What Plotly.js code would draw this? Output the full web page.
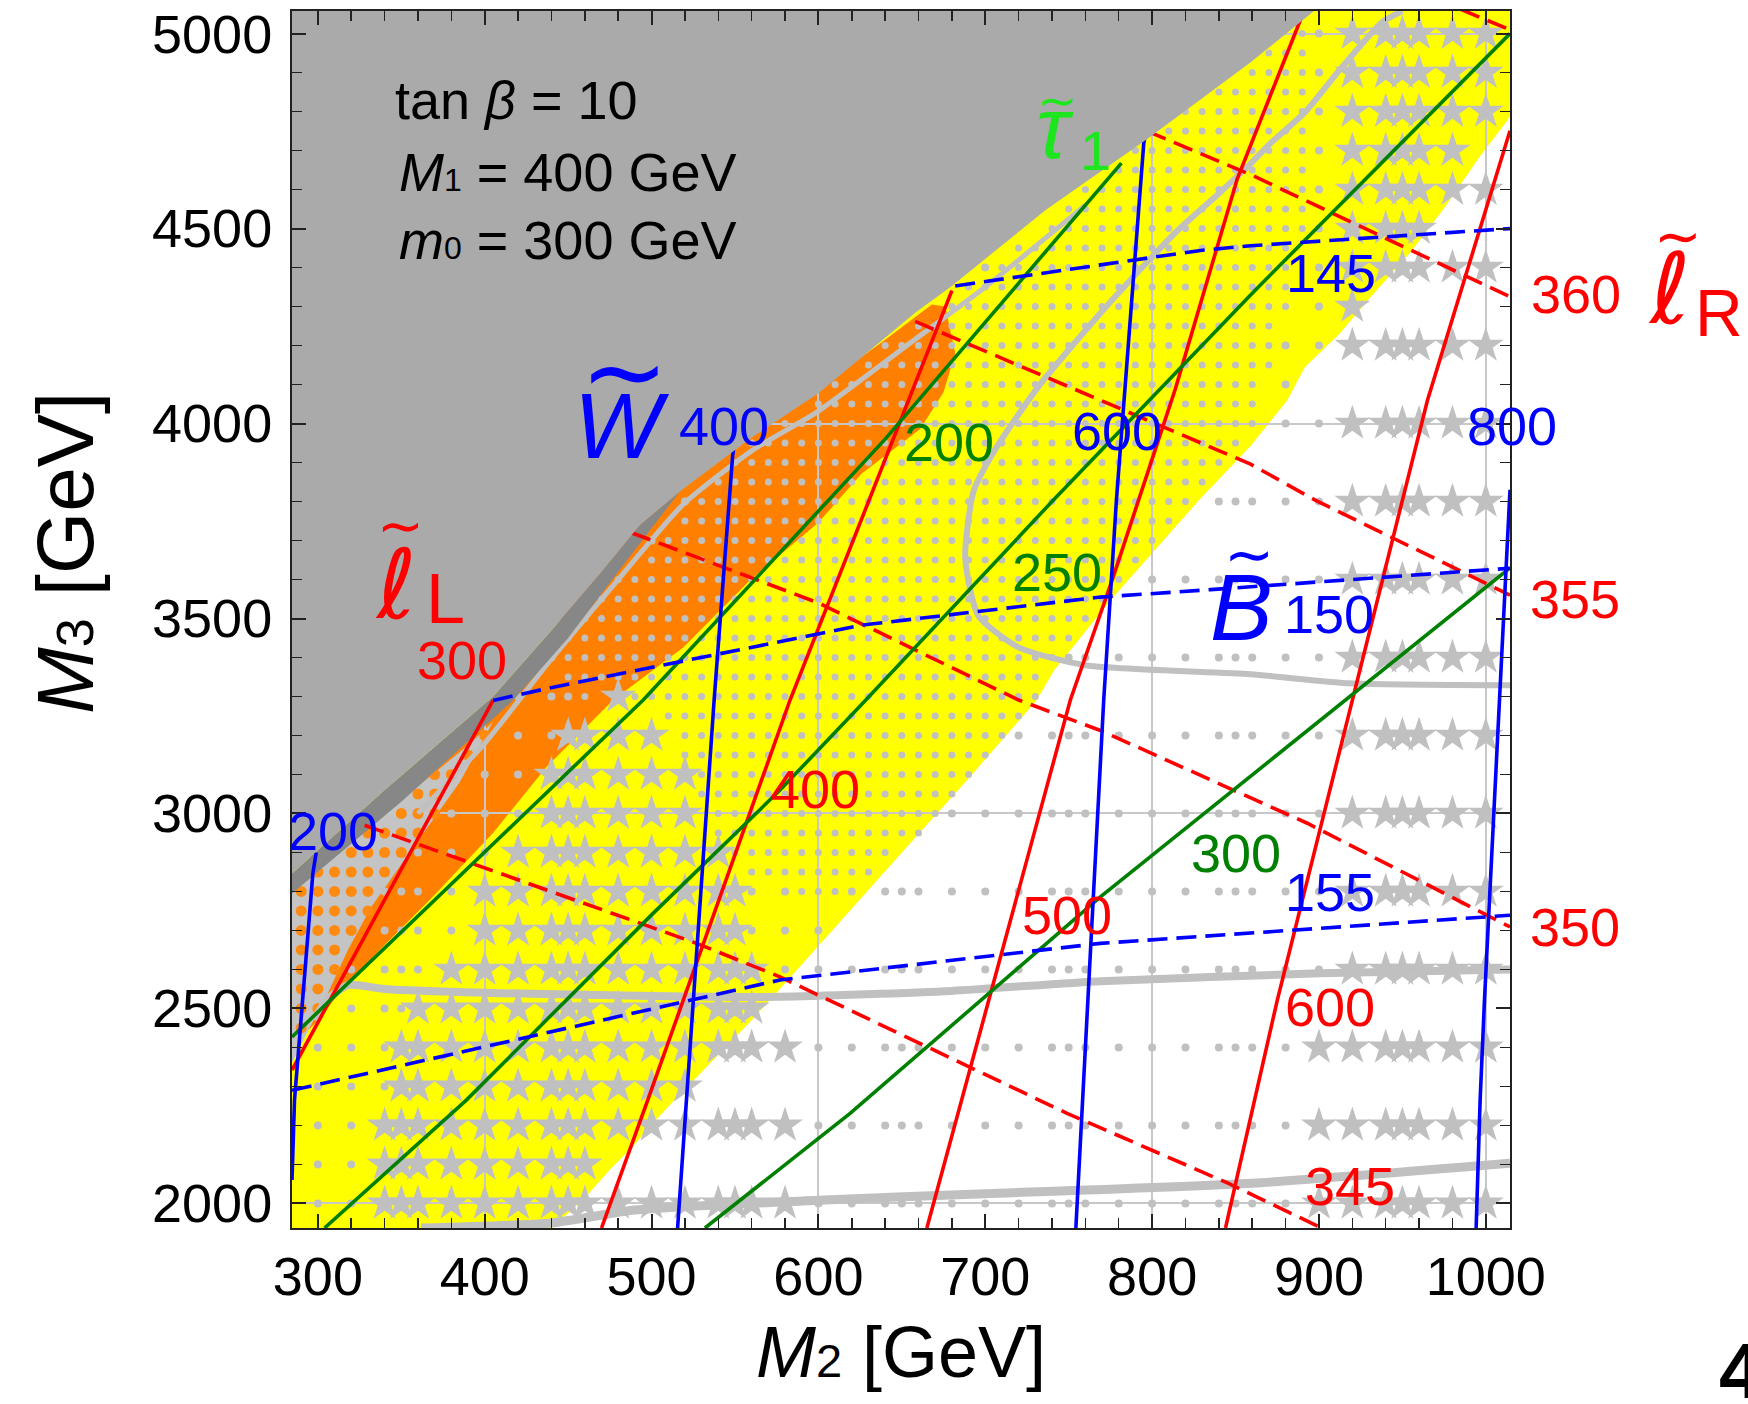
<!DOCTYPE html>
<html><head><meta charset="utf-8">
<script src="https://cdn.plot.ly/plotly-3.0.1.min.js"></script>
<style>html,body{margin:0;padding:0;background:#fff}</style>
</head><body>
<div id="chart" style="width:1748px;height:1404px"></div>
<script>
// ---------------- DATA (all in GeV) ----------------
const xRange = [284.5, 1014.5];
const yRange = [1937, 5058];

// scan grid of the parameter points
const scanM2 = [300,320,340,350,360,380,400,420,440,450,460,480,500,520,540,550,560,580,600,620,640,650,660,680,700,720,740,750,760,780,800,820,840,850,860,880,900,920,940,950,960,980,1000];
const scanM2Fine = [290,300,310,320,330,340,350,360,370,380,390,400,410,420,430,440,450,460,470,480,490,500,510,520,530,540,550,560,570,580,590,600,610,620,630,640,650,660,670,680,690,700,710,720,730,740,750,760,770,780,790,800,810,820,830,840,850,860,870,880,890];
const scanM3 = [2000,2050,2100,2150,2200,2250,2300,2350,2400,2450,2500,2550,2600,2650,2700,2750,2800,2850,2900,2950,3000,3050,3100,3150,3200,3250,3300,3350,3400,3450,3500,3550,3600,3650,3700,3750,3800,3850,3900,3950,4000,4050,4100,4150,4200,4250,4300,4350,4400,4450,4500,4550,4600,4650,4700,4750,4800,4850,4900,4950,5000,5050];

// regions
const exclM2 = [280, 280, 340, 405, 440, 470, 493, 517, 560, 600, 658, 680, 736, 797.5, 858.7, 897, 920];
const exclM3 = [5100, 2829, 3060, 3300, 3470, 3620, 3740, 3826, 3964, 4078, 4284, 4353, 4547, 4731, 4925, 5058, 5100];
const darkM2 = [280, 340, 405, 440, 470, 493, 517, 505, 480, 450, 417, 350, 280];
const darkM3 = [2829, 3060, 3300, 3470, 3620, 3740, 3826, 3760, 3620, 3450, 3290, 3030, 2779];
const yellowM2 = [284.5, 440, 458.7, 474.7, 488.5, 502.3, 513.8, 560, 600, 650, 690, 730.7, 741.4, 768.7, 778.6, 828, 858.7, 880.9, 891.6, 912.5, 929.3, 954.4, 975.4, 996.3, 1013, 1014.5, 1014.5, 284.5];
const yellowM3 = [1937, 1937, 2008, 2085, 2145, 2213, 2265, 2470, 2660, 2900, 3090, 3290, 3368, 3513, 3564, 3803, 3941, 4059, 4145, 4231, 4316, 4437, 4555, 4684, 4778, 4790, 5058, 5058];
const orangeM2 = [284.5, 284.5, 350, 417, 460, 492, 517, 560, 600, 640, 668, 676, 682, 675, 661, 626, 600, 559, 519, 477, 437, 405, 367, 337, 315, 300];
const orangeM3 = [2400, 2800, 3040, 3300, 3600, 3740, 3830, 3975, 4090, 4215, 4305, 4300, 4180, 4080, 3986, 3872, 3746, 3598, 3426, 3291, 3119, 2950, 2778, 2650, 2550, 2470];
const lgrayM2 = [284.5, 284.5, 350, 390, 405, 385, 355, 332, 318, 305, 295];
const lgrayM3 = [2360, 2800, 3035, 3175, 3235, 3080, 2900, 2760, 2650, 2530, 2450];
const fineM2 = [440, 560, 684, 800, 880, 900, 905, 860, 780, 700, 600, 520, 470];
const fineM3 = [3420, 3960, 4340, 4740, 4990, 5058, 4700, 3950, 3380, 2950, 2780, 2900, 3150];
const starAM2 = [325, 330, 345, 370, 400, 430, 450, 465, 495, 520, 545, 560, 585, 600, 590, 600];
const starAM3 = [1937, 2150, 2350, 2600, 2850, 3050, 3200, 3330, 3280, 3150, 2900, 2700, 2500, 2400, 2150, 1937];

// selectron-L contours (red solid)
const slepL300M2 = [284.5, 405], slepL300M3 = [2342, 3290];
const slepL400M2 = [470, 497.7, 583, 680], slepL400M3 = [1937, 2265, 3291, 4341];
const slepL500M2 = [665, 700, 751, 776, 814, 851, 891], slepL500M3 = [1937, 2487, 3291, 3598, 4090, 4627, 5058];
const slepL600M2 = [844, 875, 950, 965, 1014.5], slepL600M3 = [1937, 2521, 3803, 4059, 4751];
// selectron-R contours (red dashed)
const slepR345M2 = [328, 527, 577, 749, 845.5, 905], slepR345M3 = [2970, 2667, 2581, 2231, 2052, 1930];
const slepR350M2 = [488, 600, 720, 769, 893, 1014.5], slepR350M3 = [3720, 3540, 3291, 3213, 2975, 2709];
const slepR355M2 = [658, 747, 859, 898, 1014.5], slepR355M3 = [4262, 4101, 3896, 3803, 3560];
const slepR360M2 = [797, 858.7, 1014.5], slepR360M3 = [4750, 4639, 4325];
const slepR365M2 = [985, 1014.5], slepR365M3 = [5062, 5010];
// stau1 contours (green)
const stau200M2 = [284.5, 400, 495, 640, 781.6], stau200M3 = [2427, 2900, 3291, 3960, 4668];
const stau250M2 = [304, 389, 500, 577, 626, 740, 859, 917, 1014.5], stau250M3 = [1937, 2265, 2740, 3060, 3280, 3800, 4330, 4580, 5000];
const stau300M2 = [532, 619, 769, 918, 1014.5], stau300M3 = [1937, 2231, 2786, 3299, 3630];
// wino contours (blue solid)
const wino200M2 = [284.5, 286, 297, 299], wino200M3 = [2060, 2265, 2846, 2900];
const wino400M2 = [515.6, 521, 537.5, 548.6, 550], wino400M3 = [1937, 2265, 3291, 3918, 3960];
const wino600M2 = [754.3, 771, 778.6, 795, 797], wino600M3 = [1937, 3291, 3803, 4719, 4760];
const wino800M2 = [994.2, 996.6, 999.2, 1014.5], wino800M3 = [1937, 2265, 2521, 3830];
// bino contours (blue dashed)
const bino145M2 = [682, 829, 859, 1014.5], bino145M3 = [4353, 4444, 4456, 4500];
const bino150M2 = [405, 439, 626, 769, 835, 1014.5], bino150M3 = [3290, 3322, 3483, 3555, 3574, 3629];
const bino155M2 = [284.5, 577, 769, 1014.5], bino155M3 = [2290, 2573, 2667, 2739];
// thick gray contours
const grayLowM2 = [362, 440, 490, 600, 700, 860, 1014.5], grayLowM3 = [1937, 1950, 1983, 2008, 2025, 2052, 2103];
const grayMidM2 = [298, 305, 318, 340, 400, 500, 577, 680, 769, 900, 1014.5], grayMidM3 = [2470, 2520, 2560, 2550, 2540, 2532, 2530, 2545, 2570, 2590, 2600];
const grayUM2 = [950, 938, 922, 912, 892, 870, 858, 840, 814, 774, 733, 707, 693, 688, 696, 720, 760, 859, 918, 1014.5];
const grayUM3 = [5058, 5030, 4955, 4905, 4800, 4715, 4662, 4590, 4490, 4307, 4101, 3941, 3826, 3655, 3506, 3426, 3380, 3357, 3334, 3329];
const grayEdgeM2 = [360, 400, 439, 480, 519, 560, 600, 658, 700, 760], grayEdgeM3 = [3000, 3180, 3391, 3600, 3793, 3930, 4032, 4216, 4350, 4560];

// ---------------- helpers ----------------
function inPoly(x, y, xs, ys) {
  let inside = false;
  for (let i = 0, j = xs.length - 1; i < xs.length; j = i++) {
    if (((ys[i] > y) !== (ys[j] > y)) && (x < (xs[j] - xs[i]) * (y - ys[i]) / (ys[j] - ys[i]) + xs[i])) inside = !inside;
  }
  return inside;
}
function pathOf(xs, ys) { return 'M' + xs.map((x, i) => x + ',' + ys[i]).join('L') + 'Z'; }

// classify scan points
const dotX = [], dotY = [], fineX = [], fineY = [], starX = [], starY = [], orX = [], orY = [];
function hidden(m2, m3) { return inPoly(m2, m3, exclM2, exclM3) || inPoly(m2, m3, darkM2, darkM3) || inPoly(m2, m3, lgrayM2, lgrayM3); }
function isStar(m2, m3) { return m2 >= 915 || (m2 >= 890 && m3 < 2600); }
for (const m3 of scanM3) {
  for (const m2 of scanM2Fine) {
    if (m2 >= 440 && inPoly(m2, m3, fineM2, fineM3) && inPoly(m2, m3, yellowM2, yellowM3) &&
        !inPoly(m2, m3, starAM2, starAM3) && !hidden(m2, m3)) { fineX.push(m2); fineY.push(m3); }
    if (m2 <= 400 && inPoly(m2, m3, lgrayM2, lgrayM3) && !inPoly(m2, m3, darkM2, darkM3)) { orX.push(m2); orY.push(m3); }
  }
  for (const m2 of scanM2) {
    if (hidden(m2, m3)) continue;
    const inYellow = inPoly(m2, m3, yellowM2, yellowM3);
    if (inYellow && m2 < 900 && inPoly(m2, m3, fineM2, fineM3) && !inPoly(m2, m3, starAM2, starAM3)) continue;
    if (inYellow ? (m3 % 100 !== 0) : (m3 % 200 !== 0)) continue;
    if (inPoly(m2, m3, starAM2, starAM3) || isStar(m2, m3)) { starX.push(m2); starY.push(m3); } else { dotX.push(m2); dotY.push(m3); }
  }
}

const GRAY = '#c0c0c0', RED = '#ff0000', BLUE = '#0000ff', GREEN = '#008000';
function line(xs, ys, color, dash, width, shape) {
  return {type: 'scatter', mode: 'lines', x: xs, y: ys, hoverinfo: 'skip',
    line: {color: color, width: width || 3.6, dash: dash || 'solid', shape: shape || 'linear', smoothing: 0.6}};
}
function fillTrace(xs, ys, color) {
  return {type: 'scatter', mode: 'lines', x: xs, y: ys, fill: 'toself', fillcolor: color, line: {width: 0, color: color}, hoverinfo: 'skip'};
}
const DASH = '20px,9px';
const traces = [
  {type: 'scatter', mode: 'markers', x: dotX, y: dotY, marker: {symbol: 'circle', size: 8, color: GRAY}, hoverinfo: 'skip'},
  {type: 'scatter', mode: 'markers', x: fineX, y: fineY, marker: {symbol: 'circle', size: 7, color: GRAY}, hoverinfo: 'skip'},
  {type: 'scatter', mode: 'markers', x: starX, y: starY, marker: {symbol: 'star', size: 27, color: GRAY}, hoverinfo: 'skip'},
  {type: 'scatter', mode: 'markers', x: orX, y: orY, marker: {symbol: 'circle', size: 11, color: '#ff8a10'}, hoverinfo: 'skip'},
  line(grayLowM2, grayLowM3, GRAY, 'solid', 9, 'spline'),
  line(grayMidM2, grayMidM3, GRAY, 'solid', 8, 'spline'),
  line(grayUM2, grayUM3, GRAY, 'solid', 6, 'spline'),
  line(grayEdgeM2, grayEdgeM3, GRAY, 'solid', 5, 'spline'),
  fillTrace(darkM2, darkM3, '#878787'),
  line(slepL300M2, slepL300M3, RED), line(slepL400M2, slepL400M3, RED),
  line(slepL500M2, slepL500M3, RED), line(slepL600M2, slepL600M3, RED),
  line(slepR345M2, slepR345M3, RED, DASH), line(slepR350M2, slepR350M3, RED, DASH),
  line(slepR355M2, slepR355M3, RED, DASH), line(slepR360M2, slepR360M3, RED, DASH),
  line(slepR365M2, slepR365M3, RED, DASH),
  line(stau200M2, stau200M3, GREEN), line(stau250M2, stau250M3, GREEN), line(stau300M2, stau300M3, GREEN),
  line(wino200M2, wino200M3, BLUE), line(wino400M2, wino400M3, BLUE),
  line(wino600M2, wino600M3, BLUE), line(wino800M2, wino800M3, BLUE),
  line(bino145M2, bino145M3, BLUE, DASH), line(bino150M2, bino150M3, BLUE, DASH), line(bino155M2, bino155M3, BLUE, DASH),
  fillTrace(exclM2, exclM3, '#aaaaaa'),
  {type: 'scatter', mode: 'markers', x: [null], y: [null], xaxis: 'x2', yaxis: 'y2', hoverinfo: 'skip'}
];

// ---------------- layout ----------------
const L0 = 292, R0 = 1510, T0 = 11, B0 = 1228;
const FONT = 'Liberation Sans, Arial, Helvetica, sans-serif';
function A(text, X, Y, size, color, extra) {
  return Object.assign({xref: 'paper', yref: 'paper', x: (X - L0) / (R0 - L0), y: (B0 - Y) / (B0 - T0),
    text: text, showarrow: false, xanchor: 'center', yanchor: 'middle',
    font: {size: size, color: color, family: FONT}}, extra || {});
}
function tilde(X, Y, size, color) { return A('∼', X, Y, size, color, {font: {size: size, color: color, family: 'DejaVu Sans'}}); }
const NUM = 54;
const annotations = [
  A('tan <i>β</i> = 10', 393, 100, 54, '#000', {xanchor: 'left'}),
  A('<i>M</i><span style="font-size:32px">1</span> = 400 GeV', 397, 172, 54, '#000', {xanchor: 'left'}),
  A('<i>m</i><span style="font-size:32px">0</span> = 300 GeV', 397, 240, 54, '#000', {xanchor: 'left'}),
  // stau label
  A('<i>τ</i>', 1055, 127, 88, '#1ee61e'), A('1', 1095, 150, 56, '#1ee61e'), tilde(1057, 100, 48, '#1ee61e'),
  // wino label
  A('<i>W</i>', 622, 426, 93, BLUE), tilde(624, 372, 106, BLUE), A('400', 724, 426, NUM, BLUE),
  // selectron L
  A('<i>ℓ</i>', 396, 585, 96, RED, {font: {size: 96, color: RED, family: 'DejaVu Sans'}}),
  A('L', 445, 599, 70, RED), tilde(400, 525, 56, RED), A('300', 462, 660, NUM, RED),
  // bino
  A('<i>B</i>', 1241, 607, 94, BLUE), tilde(1249, 554, 60, BLUE), A('150', 1329, 614, NUM, BLUE),
  // selectron R
  A('360', 1576, 294, NUM, RED),
  A('<i>ℓ</i>', 1669, 289, 98, RED, {font: {size: 98, color: RED, family: 'DejaVu Sans'}}),
  tilde(1678, 236, 57, RED), A('R', 1719, 313, 66, RED),
  A('355', 1575, 599, NUM, RED), A('350', 1575, 927, NUM, RED), A('345', 1350, 1186, NUM, RED),
  A('600', 1330, 1007, NUM, RED), A('500', 1067, 915, NUM, RED), A('400', 815, 789, NUM, RED),
  // other numbers
  A('200', 333, 831, NUM, BLUE), A('600', 1117, 431, NUM, BLUE), A('800', 1512, 426, NUM, BLUE),
  A('145', 1331, 273, NUM, BLUE), A('155', 1330, 892, NUM, BLUE),
  A('200', 949, 442, NUM, GREEN), A('250', 1057, 572, NUM, GREEN), A('300', 1236, 853, NUM, GREEN),
  A('<b>4</b>', 1717, 1371, 78, '#000', {xanchor: 'left'})
];

const shapes = [
  {type: 'path', xref: 'x', yref: 'y', layer: 'below', path: pathOf(yellowM2, yellowM3), fillcolor: '#ffff00', line: {width: 0}},
  {type: 'path', xref: 'x', yref: 'y', layer: 'below', path: pathOf(orangeM2, orangeM3), fillcolor: '#ff8000', line: {width: 0}},
  {type: 'path', xref: 'x', yref: 'y', layer: 'below', path: pathOf(lgrayM2, lgrayM3), fillcolor: '#c4c4c4', line: {width: 0}}
];

const axCommon = {ticks: 'inside', ticklen: 14, tickwidth: 2, tickcolor: '#222', showline: true, linecolor: '#222', linewidth: 2,
  mirror: 'allticks', showgrid: false, zeroline: false, automargin: false, tickfont: {size: 54, family: FONT, color: '#000'}};
const yShift = '\u200b' + '\u00a0'.repeat(6);
const layout = {
  width: 1748, height: 1404, margin: {l: L0, r: 1748 - R0, t: T0, b: 1404 - B0, pad: 0},
  paper_bgcolor: '#ffffff', plot_bgcolor: '#ffffff', showlegend: false,
  font: {family: FONT, color: '#000'},
  xaxis: Object.assign({}, axCommon, {range: xRange, tickmode: 'linear', tick0: 300, dtick: 100, ticklabelstandoff: 0,
    minor: {tick0: 300, dtick: 20, ticks: 'inside', ticklen: 10, tickwidth: 1.5, tickcolor: '#222', showgrid: false},
    title: {text: '<i>M</i><span style="font-size:47px">2</span> [GeV]', font: {size: 72, family: FONT, color: '#000'}, standoff: 22}}),
  yaxis: Object.assign({}, axCommon, {range: yRange, tickmode: 'linear', tick0: 2000, dtick: 500, ticklabelstandoff: 7,
    minor: {tick0: 2000, dtick: 100, ticks: 'inside', ticklen: 10, tickwidth: 1.5, tickcolor: '#222', showgrid: false},
    title: {text: yShift + '<i>M</i><span style="font-size:52px">3</span> [GeV]', font: {size: 80, family: FONT, color: '#000'}, standoff: 32}}),
  xaxis2: {overlaying: 'x', range: xRange, tickmode: 'linear', tick0: 0, dtick: 200, showgrid: true, gridcolor: '#c8c8c8', gridwidth: 2,
    showticklabels: false, ticks: '', showline: false, zeroline: false},
  yaxis2: {overlaying: 'y', range: yRange, tickmode: 'linear', tick0: 0, dtick: 1000, showgrid: true, gridcolor: '#c8c8c8', gridwidth: 2,
    showticklabels: false, ticks: '', showline: false, zeroline: false},
  shapes: shapes,
  annotations: annotations
};
Plotly.newPlot('chart', traces, layout, {staticPlot: true, displayModeBar: false});
</script>
</body></html>
